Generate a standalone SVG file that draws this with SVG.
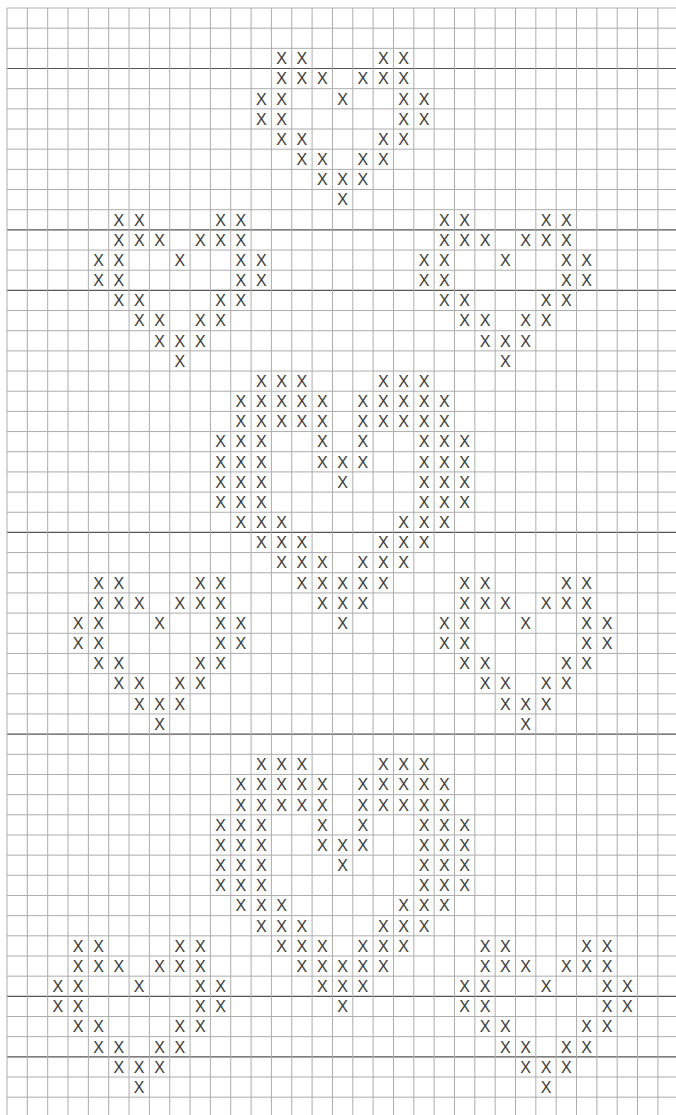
<svg xmlns="http://www.w3.org/2000/svg" width="676" height="1115" viewBox="0 0 676 1115">
<style>
.bg{fill:#ffffff}
.g{stroke:#adadad;stroke-width:1;fill:none}
.d{stroke:#555555;stroke-width:1.2;fill:none}
.x{font-family:"Liberation Sans",Arial,sans-serif;font-size:16px;fill:#3c3c3c;text-anchor:middle}
</style>
<rect class="bg" x="0" y="0" width="676" height="1115"/>
<g id="grid">
<path class="g" d="M7 8H676M7 28.17H676M7 48.34H676M7 88.68H676M7 108.85H676M7 129.02H676M7 149.19H676M7 169.36H676M7 189.53H676M7 209.7H676M7 250.04H676M7 270.21H676M7 310.55H676M7 330.72H676M7 350.89H676M7 371.06H676M7 391.23H676M7 411.4H676M7 431.57H676M7 451.74H676M7 471.91H676M7 492.08H676M7 512.25H676M7 552.59H676M7 572.76H676M7 592.93H676M7 613.1H676M7 633.27H676M7 653.44H676M7 673.61H676M7 693.78H676M7 713.95H676M7 754.29H676M7 774.46H676M7 794.63H676M7 814.8H676M7 834.97H676M7 855.14H676M7 875.31H676M7 895.48H676M7 915.65H676M7 935.82H676M7 955.99H676M7 976.16H676M7 1016.5H676M7 1036.67H676M7 1077.01H676M7 1097.18H676"/>
<path class="d" d="M7 68.51H676M7 229.87H676M7 290.38H676M7 532.42H676M7 734.12H676M7 996.33H676M7 1056.84H676"/>
<path class="g" d="M7 8V1115M27.34 8V1115M47.68 8V1115M68.02 8V1115M88.36 8V1115M108.7 8V1115M129.04 8V1115M149.38 8V1115M169.72 8V1115M190.06 8V1115M210.4 8V1115M230.74 8V1115M251.08 8V1115M271.42 8V1115M291.76 8V1115M312.1 8V1115M332.44 8V1115M352.78 8V1115M373.12 8V1115M393.46 8V1115M413.8 8V1115M434.14 8V1115M454.48 8V1115M474.82 8V1115M495.16 8V1115M515.5 8V1115M535.84 8V1115M556.18 8V1115M576.52 8V1115M596.86 8V1115M617.2 8V1115M637.54 8V1115M657.88 8V1115"/>
</g>

<g id="heart-1" transform="translate(325.44,40.74)">
<text class="x" x="-43.85" y="23.49">X</text><text class="x" x="-23.51" y="23.49">X</text><text class="x" x="57.85" y="23.49">X</text><text class="x" x="78.19" y="23.49">X</text>
<text class="x" x="-43.85" y="43.66">X</text><text class="x" x="-23.51" y="43.66">X</text><text class="x" x="-3.17" y="43.66">X</text><text class="x" x="37.51" y="43.66">X</text><text class="x" x="57.85" y="43.66">X</text><text class="x" x="78.19" y="43.66">X</text>
<text class="x" x="-64.19" y="63.83">X</text><text class="x" x="-43.85" y="63.83">X</text><text class="x" x="17.17" y="63.83">X</text><text class="x" x="78.19" y="63.83">X</text><text class="x" x="98.53" y="63.83">X</text>
<text class="x" x="-64.19" y="84">X</text><text class="x" x="-43.85" y="84">X</text><text class="x" x="78.19" y="84">X</text><text class="x" x="98.53" y="84">X</text>
<text class="x" x="-43.85" y="104.17">X</text><text class="x" x="-23.51" y="104.17">X</text><text class="x" x="57.85" y="104.17">X</text><text class="x" x="78.19" y="104.17">X</text>
<text class="x" x="-23.51" y="124.34">X</text><text class="x" x="-3.17" y="124.34">X</text><text class="x" x="37.51" y="124.34">X</text><text class="x" x="57.85" y="124.34">X</text>
<text class="x" x="-3.17" y="144.51">X</text><text class="x" x="17.17" y="144.51">X</text><text class="x" x="37.51" y="144.51">X</text>
<text class="x" x="17.17" y="164.68">X</text>
</g>

<g id="heart-2" transform="translate(162.72,202.1)">
<text class="x" x="-43.85" y="23.49">X</text><text class="x" x="-23.51" y="23.49">X</text><text class="x" x="57.85" y="23.49">X</text><text class="x" x="78.19" y="23.49">X</text>
<text class="x" x="-43.85" y="43.66">X</text><text class="x" x="-23.51" y="43.66">X</text><text class="x" x="-3.17" y="43.66">X</text><text class="x" x="37.51" y="43.66">X</text><text class="x" x="57.85" y="43.66">X</text><text class="x" x="78.19" y="43.66">X</text>
<text class="x" x="-64.19" y="63.83">X</text><text class="x" x="-43.85" y="63.83">X</text><text class="x" x="17.17" y="63.83">X</text><text class="x" x="78.19" y="63.83">X</text><text class="x" x="98.53" y="63.83">X</text>
<text class="x" x="-64.19" y="84">X</text><text class="x" x="-43.85" y="84">X</text><text class="x" x="78.19" y="84">X</text><text class="x" x="98.53" y="84">X</text>
<text class="x" x="-43.85" y="104.17">X</text><text class="x" x="-23.51" y="104.17">X</text><text class="x" x="57.85" y="104.17">X</text><text class="x" x="78.19" y="104.17">X</text>
<text class="x" x="-23.51" y="124.34">X</text><text class="x" x="-3.17" y="124.34">X</text><text class="x" x="37.51" y="124.34">X</text><text class="x" x="57.85" y="124.34">X</text>
<text class="x" x="-3.17" y="144.51">X</text><text class="x" x="17.17" y="144.51">X</text><text class="x" x="37.51" y="144.51">X</text>
<text class="x" x="17.17" y="164.68">X</text>
</g>

<g id="heart-3" transform="translate(488.16,202.1)">
<text class="x" x="-43.85" y="23.49">X</text><text class="x" x="-23.51" y="23.49">X</text><text class="x" x="57.85" y="23.49">X</text><text class="x" x="78.19" y="23.49">X</text>
<text class="x" x="-43.85" y="43.66">X</text><text class="x" x="-23.51" y="43.66">X</text><text class="x" x="-3.17" y="43.66">X</text><text class="x" x="37.51" y="43.66">X</text><text class="x" x="57.85" y="43.66">X</text><text class="x" x="78.19" y="43.66">X</text>
<text class="x" x="-64.19" y="63.83">X</text><text class="x" x="-43.85" y="63.83">X</text><text class="x" x="17.17" y="63.83">X</text><text class="x" x="78.19" y="63.83">X</text><text class="x" x="98.53" y="63.83">X</text>
<text class="x" x="-64.19" y="84">X</text><text class="x" x="-43.85" y="84">X</text><text class="x" x="78.19" y="84">X</text><text class="x" x="98.53" y="84">X</text>
<text class="x" x="-43.85" y="104.17">X</text><text class="x" x="-23.51" y="104.17">X</text><text class="x" x="57.85" y="104.17">X</text><text class="x" x="78.19" y="104.17">X</text>
<text class="x" x="-23.51" y="124.34">X</text><text class="x" x="-3.17" y="124.34">X</text><text class="x" x="37.51" y="124.34">X</text><text class="x" x="57.85" y="124.34">X</text>
<text class="x" x="-3.17" y="144.51">X</text><text class="x" x="17.17" y="144.51">X</text><text class="x" x="37.51" y="144.51">X</text>
<text class="x" x="17.17" y="164.68">X</text>
</g>

<g id="big-heart-1" transform="translate(325.44,363.46)">
<text class="x" x="-64.19" y="23.49">X</text><text class="x" x="-43.85" y="23.49">X</text><text class="x" x="-23.51" y="23.49">X</text><text class="x" x="57.85" y="23.49">X</text><text class="x" x="78.19" y="23.49">X</text><text class="x" x="98.53" y="23.49">X</text>
<text class="x" x="-84.53" y="43.66">X</text><text class="x" x="-64.19" y="43.66">X</text><text class="x" x="-43.85" y="43.66">X</text><text class="x" x="-23.51" y="43.66">X</text><text class="x" x="-3.17" y="43.66">X</text><text class="x" x="37.51" y="43.66">X</text><text class="x" x="57.85" y="43.66">X</text><text class="x" x="78.19" y="43.66">X</text><text class="x" x="98.53" y="43.66">X</text><text class="x" x="118.87" y="43.66">X</text>
<text class="x" x="-84.53" y="63.83">X</text><text class="x" x="-64.19" y="63.83">X</text><text class="x" x="-43.85" y="63.83">X</text><text class="x" x="-23.51" y="63.83">X</text><text class="x" x="-3.17" y="63.83">X</text><text class="x" x="37.51" y="63.83">X</text><text class="x" x="57.85" y="63.83">X</text><text class="x" x="78.19" y="63.83">X</text><text class="x" x="98.53" y="63.83">X</text><text class="x" x="118.87" y="63.83">X</text>
<text class="x" x="-104.87" y="84">X</text><text class="x" x="-84.53" y="84">X</text><text class="x" x="-64.19" y="84">X</text><text class="x" x="-3.17" y="84">X</text><text class="x" x="37.51" y="84">X</text><text class="x" x="98.53" y="84">X</text><text class="x" x="118.87" y="84">X</text><text class="x" x="139.21" y="84">X</text>
<text class="x" x="-104.87" y="104.17">X</text><text class="x" x="-84.53" y="104.17">X</text><text class="x" x="-64.19" y="104.17">X</text><text class="x" x="-3.17" y="104.17">X</text><text class="x" x="17.17" y="104.17">X</text><text class="x" x="37.51" y="104.17">X</text><text class="x" x="98.53" y="104.17">X</text><text class="x" x="118.87" y="104.17">X</text><text class="x" x="139.21" y="104.17">X</text>
<text class="x" x="-104.87" y="124.34">X</text><text class="x" x="-84.53" y="124.34">X</text><text class="x" x="-64.19" y="124.34">X</text><text class="x" x="17.17" y="124.34">X</text><text class="x" x="98.53" y="124.34">X</text><text class="x" x="118.87" y="124.34">X</text><text class="x" x="139.21" y="124.34">X</text>
<text class="x" x="-104.87" y="144.51">X</text><text class="x" x="-84.53" y="144.51">X</text><text class="x" x="-64.19" y="144.51">X</text><text class="x" x="98.53" y="144.51">X</text><text class="x" x="118.87" y="144.51">X</text><text class="x" x="139.21" y="144.51">X</text>
<text class="x" x="-84.53" y="164.68">X</text><text class="x" x="-64.19" y="164.68">X</text><text class="x" x="-43.85" y="164.68">X</text><text class="x" x="78.19" y="164.68">X</text><text class="x" x="98.53" y="164.68">X</text><text class="x" x="118.87" y="164.68">X</text>
<text class="x" x="-64.19" y="184.85">X</text><text class="x" x="-43.85" y="184.85">X</text><text class="x" x="-23.51" y="184.85">X</text><text class="x" x="57.85" y="184.85">X</text><text class="x" x="78.19" y="184.85">X</text><text class="x" x="98.53" y="184.85">X</text>
<text class="x" x="-43.85" y="205.02">X</text><text class="x" x="-23.51" y="205.02">X</text><text class="x" x="-3.17" y="205.02">X</text><text class="x" x="37.51" y="205.02">X</text><text class="x" x="57.85" y="205.02">X</text><text class="x" x="78.19" y="205.02">X</text>
<text class="x" x="-23.51" y="225.19">X</text><text class="x" x="-3.17" y="225.19">X</text><text class="x" x="17.17" y="225.19">X</text><text class="x" x="37.51" y="225.19">X</text><text class="x" x="57.85" y="225.19">X</text>
<text class="x" x="-3.17" y="245.36">X</text><text class="x" x="17.17" y="245.36">X</text><text class="x" x="37.51" y="245.36">X</text>
<text class="x" x="17.17" y="265.53">X</text>
</g>

<g id="heart-4" transform="translate(142.38,565.16)">
<text class="x" x="-43.85" y="23.49">X</text><text class="x" x="-23.51" y="23.49">X</text><text class="x" x="57.85" y="23.49">X</text><text class="x" x="78.19" y="23.49">X</text>
<text class="x" x="-43.85" y="43.66">X</text><text class="x" x="-23.51" y="43.66">X</text><text class="x" x="-3.17" y="43.66">X</text><text class="x" x="37.51" y="43.66">X</text><text class="x" x="57.85" y="43.66">X</text><text class="x" x="78.19" y="43.66">X</text>
<text class="x" x="-64.19" y="63.83">X</text><text class="x" x="-43.85" y="63.83">X</text><text class="x" x="17.17" y="63.83">X</text><text class="x" x="78.19" y="63.83">X</text><text class="x" x="98.53" y="63.83">X</text>
<text class="x" x="-64.19" y="84">X</text><text class="x" x="-43.85" y="84">X</text><text class="x" x="78.19" y="84">X</text><text class="x" x="98.53" y="84">X</text>
<text class="x" x="-43.85" y="104.17">X</text><text class="x" x="-23.51" y="104.17">X</text><text class="x" x="57.85" y="104.17">X</text><text class="x" x="78.19" y="104.17">X</text>
<text class="x" x="-23.51" y="124.34">X</text><text class="x" x="-3.17" y="124.34">X</text><text class="x" x="37.51" y="124.34">X</text><text class="x" x="57.85" y="124.34">X</text>
<text class="x" x="-3.17" y="144.51">X</text><text class="x" x="17.17" y="144.51">X</text><text class="x" x="37.51" y="144.51">X</text>
<text class="x" x="17.17" y="164.68">X</text>
</g>

<g id="heart-5" transform="translate(508.5,565.16)">
<text class="x" x="-43.85" y="23.49">X</text><text class="x" x="-23.51" y="23.49">X</text><text class="x" x="57.85" y="23.49">X</text><text class="x" x="78.19" y="23.49">X</text>
<text class="x" x="-43.85" y="43.66">X</text><text class="x" x="-23.51" y="43.66">X</text><text class="x" x="-3.17" y="43.66">X</text><text class="x" x="37.51" y="43.66">X</text><text class="x" x="57.85" y="43.66">X</text><text class="x" x="78.19" y="43.66">X</text>
<text class="x" x="-64.19" y="63.83">X</text><text class="x" x="-43.85" y="63.83">X</text><text class="x" x="17.17" y="63.83">X</text><text class="x" x="78.19" y="63.83">X</text><text class="x" x="98.53" y="63.83">X</text>
<text class="x" x="-64.19" y="84">X</text><text class="x" x="-43.85" y="84">X</text><text class="x" x="78.19" y="84">X</text><text class="x" x="98.53" y="84">X</text>
<text class="x" x="-43.85" y="104.17">X</text><text class="x" x="-23.51" y="104.17">X</text><text class="x" x="57.85" y="104.17">X</text><text class="x" x="78.19" y="104.17">X</text>
<text class="x" x="-23.51" y="124.34">X</text><text class="x" x="-3.17" y="124.34">X</text><text class="x" x="37.51" y="124.34">X</text><text class="x" x="57.85" y="124.34">X</text>
<text class="x" x="-3.17" y="144.51">X</text><text class="x" x="17.17" y="144.51">X</text><text class="x" x="37.51" y="144.51">X</text>
<text class="x" x="17.17" y="164.68">X</text>
</g>

<g id="big-heart-2" transform="translate(325.44,746.69)">
<text class="x" x="-64.19" y="23.49">X</text><text class="x" x="-43.85" y="23.49">X</text><text class="x" x="-23.51" y="23.49">X</text><text class="x" x="57.85" y="23.49">X</text><text class="x" x="78.19" y="23.49">X</text><text class="x" x="98.53" y="23.49">X</text>
<text class="x" x="-84.53" y="43.66">X</text><text class="x" x="-64.19" y="43.66">X</text><text class="x" x="-43.85" y="43.66">X</text><text class="x" x="-23.51" y="43.66">X</text><text class="x" x="-3.17" y="43.66">X</text><text class="x" x="37.51" y="43.66">X</text><text class="x" x="57.85" y="43.66">X</text><text class="x" x="78.19" y="43.66">X</text><text class="x" x="98.53" y="43.66">X</text><text class="x" x="118.87" y="43.66">X</text>
<text class="x" x="-84.53" y="63.83">X</text><text class="x" x="-64.19" y="63.83">X</text><text class="x" x="-43.85" y="63.83">X</text><text class="x" x="-23.51" y="63.83">X</text><text class="x" x="-3.17" y="63.83">X</text><text class="x" x="37.51" y="63.83">X</text><text class="x" x="57.85" y="63.83">X</text><text class="x" x="78.19" y="63.83">X</text><text class="x" x="98.53" y="63.83">X</text><text class="x" x="118.87" y="63.83">X</text>
<text class="x" x="-104.87" y="84">X</text><text class="x" x="-84.53" y="84">X</text><text class="x" x="-64.19" y="84">X</text><text class="x" x="-3.17" y="84">X</text><text class="x" x="37.51" y="84">X</text><text class="x" x="98.53" y="84">X</text><text class="x" x="118.87" y="84">X</text><text class="x" x="139.21" y="84">X</text>
<text class="x" x="-104.87" y="104.17">X</text><text class="x" x="-84.53" y="104.17">X</text><text class="x" x="-64.19" y="104.17">X</text><text class="x" x="-3.17" y="104.17">X</text><text class="x" x="17.17" y="104.17">X</text><text class="x" x="37.51" y="104.17">X</text><text class="x" x="98.53" y="104.17">X</text><text class="x" x="118.87" y="104.17">X</text><text class="x" x="139.21" y="104.17">X</text>
<text class="x" x="-104.87" y="124.34">X</text><text class="x" x="-84.53" y="124.34">X</text><text class="x" x="-64.19" y="124.34">X</text><text class="x" x="17.17" y="124.34">X</text><text class="x" x="98.53" y="124.34">X</text><text class="x" x="118.87" y="124.34">X</text><text class="x" x="139.21" y="124.34">X</text>
<text class="x" x="-104.87" y="144.51">X</text><text class="x" x="-84.53" y="144.51">X</text><text class="x" x="-64.19" y="144.51">X</text><text class="x" x="98.53" y="144.51">X</text><text class="x" x="118.87" y="144.51">X</text><text class="x" x="139.21" y="144.51">X</text>
<text class="x" x="-84.53" y="164.68">X</text><text class="x" x="-64.19" y="164.68">X</text><text class="x" x="-43.85" y="164.68">X</text><text class="x" x="78.19" y="164.68">X</text><text class="x" x="98.53" y="164.68">X</text><text class="x" x="118.87" y="164.68">X</text>
<text class="x" x="-64.19" y="184.85">X</text><text class="x" x="-43.85" y="184.85">X</text><text class="x" x="-23.51" y="184.85">X</text><text class="x" x="57.85" y="184.85">X</text><text class="x" x="78.19" y="184.85">X</text><text class="x" x="98.53" y="184.85">X</text>
<text class="x" x="-43.85" y="205.02">X</text><text class="x" x="-23.51" y="205.02">X</text><text class="x" x="-3.17" y="205.02">X</text><text class="x" x="37.51" y="205.02">X</text><text class="x" x="57.85" y="205.02">X</text><text class="x" x="78.19" y="205.02">X</text>
<text class="x" x="-23.51" y="225.19">X</text><text class="x" x="-3.17" y="225.19">X</text><text class="x" x="17.17" y="225.19">X</text><text class="x" x="37.51" y="225.19">X</text><text class="x" x="57.85" y="225.19">X</text>
<text class="x" x="-3.17" y="245.36">X</text><text class="x" x="17.17" y="245.36">X</text><text class="x" x="37.51" y="245.36">X</text>
<text class="x" x="17.17" y="265.53">X</text>
</g>

<g id="heart-6" transform="translate(122.04,928.22)">
<text class="x" x="-43.85" y="23.49">X</text><text class="x" x="-23.51" y="23.49">X</text><text class="x" x="57.85" y="23.49">X</text><text class="x" x="78.19" y="23.49">X</text>
<text class="x" x="-43.85" y="43.66">X</text><text class="x" x="-23.51" y="43.66">X</text><text class="x" x="-3.17" y="43.66">X</text><text class="x" x="37.51" y="43.66">X</text><text class="x" x="57.85" y="43.66">X</text><text class="x" x="78.19" y="43.66">X</text>
<text class="x" x="-64.19" y="63.83">X</text><text class="x" x="-43.85" y="63.83">X</text><text class="x" x="17.17" y="63.83">X</text><text class="x" x="78.19" y="63.83">X</text><text class="x" x="98.53" y="63.83">X</text>
<text class="x" x="-64.19" y="84">X</text><text class="x" x="-43.85" y="84">X</text><text class="x" x="78.19" y="84">X</text><text class="x" x="98.53" y="84">X</text>
<text class="x" x="-43.85" y="104.17">X</text><text class="x" x="-23.51" y="104.17">X</text><text class="x" x="57.85" y="104.17">X</text><text class="x" x="78.19" y="104.17">X</text>
<text class="x" x="-23.51" y="124.34">X</text><text class="x" x="-3.17" y="124.34">X</text><text class="x" x="37.51" y="124.34">X</text><text class="x" x="57.85" y="124.34">X</text>
<text class="x" x="-3.17" y="144.51">X</text><text class="x" x="17.17" y="144.51">X</text><text class="x" x="37.51" y="144.51">X</text>
<text class="x" x="17.17" y="164.68">X</text>
</g>

<g id="heart-7" transform="translate(528.84,928.22)">
<text class="x" x="-43.85" y="23.49">X</text><text class="x" x="-23.51" y="23.49">X</text><text class="x" x="57.85" y="23.49">X</text><text class="x" x="78.19" y="23.49">X</text>
<text class="x" x="-43.85" y="43.66">X</text><text class="x" x="-23.51" y="43.66">X</text><text class="x" x="-3.17" y="43.66">X</text><text class="x" x="37.51" y="43.66">X</text><text class="x" x="57.85" y="43.66">X</text><text class="x" x="78.19" y="43.66">X</text>
<text class="x" x="-64.19" y="63.83">X</text><text class="x" x="-43.85" y="63.83">X</text><text class="x" x="17.17" y="63.83">X</text><text class="x" x="78.19" y="63.83">X</text><text class="x" x="98.53" y="63.83">X</text>
<text class="x" x="-64.19" y="84">X</text><text class="x" x="-43.85" y="84">X</text><text class="x" x="78.19" y="84">X</text><text class="x" x="98.53" y="84">X</text>
<text class="x" x="-43.85" y="104.17">X</text><text class="x" x="-23.51" y="104.17">X</text><text class="x" x="57.85" y="104.17">X</text><text class="x" x="78.19" y="104.17">X</text>
<text class="x" x="-23.51" y="124.34">X</text><text class="x" x="-3.17" y="124.34">X</text><text class="x" x="37.51" y="124.34">X</text><text class="x" x="57.85" y="124.34">X</text>
<text class="x" x="-3.17" y="144.51">X</text><text class="x" x="17.17" y="144.51">X</text><text class="x" x="37.51" y="144.51">X</text>
<text class="x" x="17.17" y="164.68">X</text>
</g>
</svg>
